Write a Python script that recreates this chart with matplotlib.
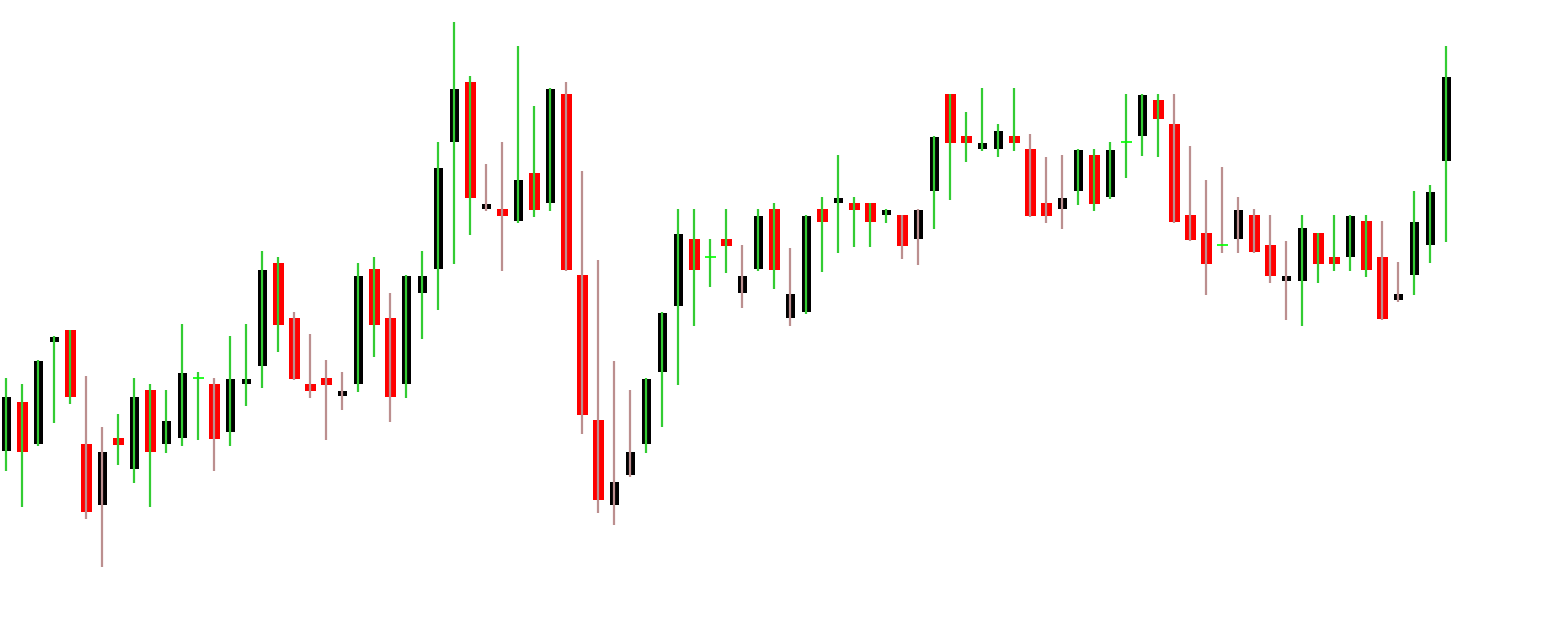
import numpy as np
import matplotlib
matplotlib.use('Agg')
import matplotlib.pyplot as plt

# OHLC values (arbitrary price units)
opens = [172, 221, 179, 281, 293, 179, 118, 185, 154, 233,
         179, 185, 245, 239, 191, 239, 257, 360, 305, 239,
         245, 227, 239, 354, 305, 239, 330, 354, 481, 541,
         414, 414, 402, 450, 420, 529, 348, 203, 118, 148,
         179, 251, 317, 384, 366, 384, 330, 354, 414, 305,
         311, 414, 420, 420, 420, 408, 408, 384, 432, 529,
         487, 474, 474, 487, 474, 420, 414, 432, 468, 426,
         481, 487, 523, 499, 408, 390, 378, 384, 408, 378,
         342, 342, 390, 366, 366, 402, 366, 323, 348, 378,
         462]
highs = [245, 239, 263, 287, 293, 247, 196, 209, 245, 239,
         233, 299, 251, 245, 287, 299, 372, 366, 311, 289,
         263, 251, 360, 366, 330, 348, 372, 481, 601, 547,
         459, 481, 577, 517, 535, 541, 452, 363, 262, 233,
         245, 311, 414, 414, 384, 414, 378, 414, 420, 375,
         408, 426, 468, 426, 420, 414, 408, 414, 487, 529,
         511, 535, 499, 535, 489, 466, 468, 474, 474, 481,
         529, 529, 529, 529, 477, 443, 456, 426, 414, 408,
         382, 408, 390, 408, 408, 408, 402, 361, 432, 438,
         577]
lows = [152, 116, 177, 200, 219, 104, 56, 158, 140, 116,
        170, 177, 183, 152, 177, 217, 235, 271, 243, 225,
        183, 213, 231, 266, 201, 225, 284, 313, 359, 388,
        412, 352, 400, 406, 412, 352, 189, 110, 98, 146,
        170, 196, 238, 297, 336, 350, 315, 352, 334, 297,
        309, 351, 370, 376, 376, 400, 364, 358, 394, 423,
        461, 472, 466, 472, 406, 400, 394, 418, 412, 424,
        445, 467, 466, 400, 382, 328, 370, 370, 370, 340,
        303, 297, 340, 352, 352, 346, 303, 321, 328, 360,
        381]
closes = [226, 171, 262, 286, 226, 111, 171, 178, 226, 171,
          202, 250, 245, 184, 244, 244, 353, 298, 244, 232,
          238, 232, 347, 298, 226, 347, 347, 455, 534, 425,
          419, 407, 443, 413, 534, 353, 208, 123, 141, 171,
          244, 310, 389, 353, 366, 377, 347, 407, 353, 329,
          407, 401, 425, 413, 401, 413, 377, 413, 486, 480,
          480, 480, 492, 480, 407, 407, 425, 473, 419, 473,
          481, 528, 504, 401, 383, 359, 378, 413, 371, 347,
          347, 395, 359, 359, 407, 353, 304, 329, 401, 431,
          546]
# wick colour state per bar ('g' = green, 'r' = rosy)
trend = list('gggggrrggggggrggggrrrrggrgggggrrgggrrrrrggggggrggrgggggg'
             'rrggggggrrrggggggrrrrrrrrgggggrrggg')

n = len(opens)
x = np.arange(n)

fig = plt.figure(figsize=(15.52, 6.23), dpi=100, facecolor='white')
ax = fig.add_axes([0, 0, 1, 1])
ax.set_facecolor('white')

px = 1 / 16  # one pixel in x data units
for i in range(n):
    o, h, l, c = opens[i], highs[i], lows[i], closes[i]
    if c > o:
        ax.bar(x[i], c - o, bottom=o, width=9 * px, color='black',
               linewidth=0, zorder=2)
    elif c < o:
        ax.bar(x[i], o - c, bottom=c, width=11 * px, color='#ff0000',
               linewidth=0, zorder=2)
    else:
        ax.hlines(o, x[i] - 5.5 * px, x[i] + 5.5 * px, color='#00ff00',
                  linewidth=1.2, zorder=4)
    wc = '#33cc33' if trend[i] == 'g' else '#bc8f8f'
    ax.vlines(x[i], l, h, color=wc, linewidth=1.6, zorder=3)

ax.set_xlim(-0.375, 1552 / 16 - 0.375)
ax.set_ylim(0, 623)
ax.axis('off')

plt.savefig('out.png', dpi=100, facecolor='white')
